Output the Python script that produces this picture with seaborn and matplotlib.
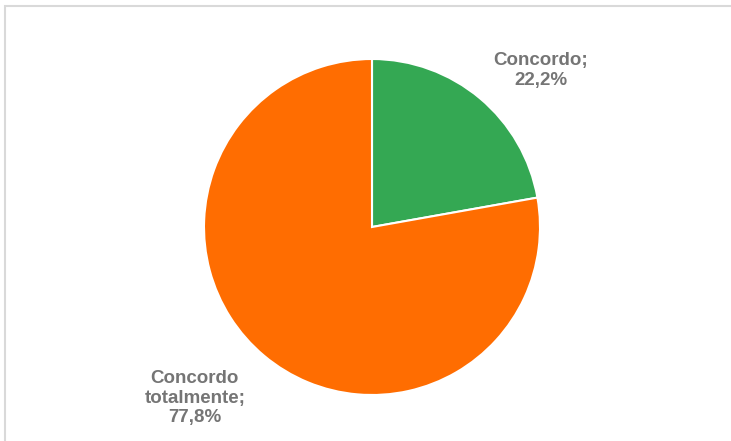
import matplotlib
matplotlib.use("Agg")
import matplotlib.pyplot as plt
import matplotlib.patches as mpatches
import seaborn as sns

# Survey responses
categories = ["Concordo", "Concordo totalmente"]
label_names = ["Concordo;", "Concordo\ntotalmente;"]
values = [22.2, 77.8]
colors = ["#34A853", "#FF6D01"]

sns.set_theme(style="white")
plt.rcParams["font.family"] = ["Liberation Sans", "DejaVu Sans"]

W, H = 731, 441
fig = plt.figure(figsize=(W / 100, H / 100), dpi=100)
fig.patch.set_facecolor("white")

# light frame around the chart area
fig.add_artist(mpatches.Rectangle((5 / W, -0.05), 1.1, 1 - 6 / H + 0.05,
                                  transform=fig.transFigure, fill=False,
                                  edgecolor="#d9d9d9", linewidth=1.5))

cx, cy, r = 372, 227, 168
ax = fig.add_axes([(cx - r) / W, (H - cy - r) / H, 2 * r / W, 2 * r / H])
wedges, _ = ax.pie(values, colors=colors, startangle=90, counterclock=False,
                   radius=1.0, wedgeprops=dict(edgecolor="white", linewidth=1.5))
ax.set_xlim(-1, 1)
ax.set_ylim(-1, 1)
ax.set_aspect("equal")
ax.axis("off")

label_pos = [(1.006, 0.93), (-1.054, -1.02)]
for name, v, (x, y) in zip(label_names, values, label_pos):
    txt = f"{name}\n{v:.1f}%".replace(".", ",")
    ax.text(x, y, txt, ha="center", va="center", fontsize=13.5,
            fontweight="bold", color="#757575", linespacing=1.2,
            clip_on=False)

fig.savefig("out.png", dpi=100, facecolor="white")
